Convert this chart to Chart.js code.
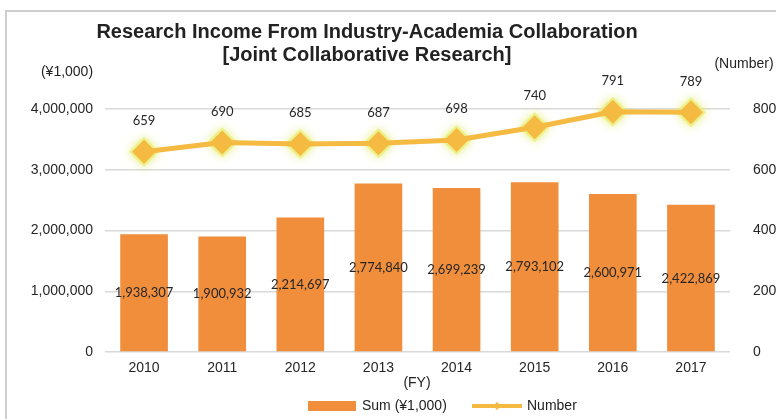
<!DOCTYPE html>
<html>
<head>
<meta charset="utf-8">
<script src="https://cdn.jsdelivr.net/npm/chart.js@4.4.1/dist/chart.umd.min.js"></script>
<style>
  html, body { margin: 0; padding: 0; background: #fff; }
  #wrap { position: relative; width: 776px; height: 419px; overflow: hidden; }
  #frame { position: absolute; left: 5px; top: 10px; width: 800px; height: 440px; border: 2px solid #cfcfcf; box-sizing: border-box; }
  canvas { position: absolute; left: 0; top: 0; }
</style>
</head>
<body>
<div id="wrap">
  <div id="frame"></div>
  <canvas id="myChart" width="776" height="419"></canvas>
</div>
<script>
'use strict';

const years = ['2010', '2011', '2012', '2013', '2014', '2015', '2016', '2017'];
const sums = [1938307, 1900932, 2214697, 2774840, 2699239, 2793102, 2600971, 2422869];
const counts = [659, 690, 685, 687, 698, 740, 791, 789];

const barColor = '#F08E3C';
const lineColor = '#F4BA42';
const narrow = '"Liberation Sans Narrow", "Arial Narrow", "Liberation Sans", sans-serif';

const fmt = n => n.toLocaleString('en-US');

// soft yellow glow behind the diamonds
const glow = {
  id: 'glow',
  beforeDatasetsDraw(chart) {
    const { ctx } = chart;
    const meta = chart.getDatasetMeta(0);
    ctx.save();
    ctx.fillStyle = 'rgba(236, 240, 130, 0.9)';
    ctx.shadowColor = 'rgba(230, 236, 110, 1)';
    ctx.shadowBlur = 10;
    meta.data.forEach(pt => {
      const r = 15;
      ctx.beginPath();
      ctx.moveTo(pt.x, pt.y - r);
      ctx.lineTo(pt.x + r, pt.y);
      ctx.lineTo(pt.x, pt.y + r);
      ctx.lineTo(pt.x - r, pt.y);
      ctx.closePath();
      ctx.fill();
    });
    ctx.restore();
  }
};

// labels, titles and legend drawn on top
const extras = {
  id: 'extras',
  afterDatasetsDraw(chart) {
    const { ctx, scales: { x, y, y1 } } = chart;
    ctx.save();
    ctx.fillStyle = '#262626';
    ctx.textAlign = 'center';
    ctx.textBaseline = 'middle';

    // bar values in the middle of each bar
    ctx.font = '13px Lato, sans-serif';
    sums.forEach((v, i) => {
      ctx.fillText(fmt(v), x.getPixelForValue(i), (y.getPixelForValue(v) + y.getPixelForValue(0)) / 2);
    });

    // counts above points
    counts.forEach((v, i) => {
      ctx.fillText(fmt(v), x.getPixelForValue(i), y1.getPixelForValue(v) - 31);
    });

    // title
    ctx.fillStyle = '#222';
    ctx.font = 'bold 20px ' + narrow;
    ctx.fillText('Research Income From Industry-Academia Collaboration', 367, 32);
    ctx.fillText('[Joint Collaborative Research]', 367, 55);

    // axis units
    ctx.font = '14px ' + narrow;
    ctx.fillText('(¥1,000)', 67, 72);
    ctx.fillText('(Number)', 744, 64);
    ctx.fillText('(FY)', 417, 383);

    // legend
    ctx.fillStyle = barColor;
    ctx.fillRect(308, 401, 48, 10);
    ctx.fillStyle = '#222';
    ctx.textAlign = 'left';
    ctx.fillText('Sum (¥1,000)', 362, 406);
    ctx.strokeStyle = lineColor;
    ctx.lineWidth = 4;
    ctx.beginPath();
    ctx.moveTo(472, 406);
    ctx.lineTo(522, 406);
    ctx.stroke();
    ctx.fillStyle = lineColor;
    ctx.beginPath();
    ctx.moveTo(497, 402); ctx.lineTo(501, 406); ctx.lineTo(497, 410); ctx.lineTo(493, 406);
    ctx.closePath();
    ctx.fill();
    ctx.fillStyle = '#222';
    ctx.fillText('Number', 527, 406);
    ctx.restore();
  }
};

const data = {
  labels: years,
  datasets: [
    {
      type: 'line',
      label: 'Number',
      data: counts,
      yAxisID: 'y1',
      borderColor: lineColor,
      borderWidth: 5,
      backgroundColor: lineColor,
      pointStyle: 'rectRot',
      pointRadius: 12,
      pointBorderWidth: 0,
      pointBackgroundColor: lineColor,
      clip: false,
      order: 0
    },
    {
      type: 'bar',
      label: 'Sum (¥1,000)',
      data: sums,
      yAxisID: 'y',
      backgroundColor: barColor,
      barPercentage: 0.61,
      categoryPercentage: 1,
      order: 1
    }
  ]
};

const config = {
  data,
  options: {
    responsive: false,
    animation: false,
    layout: { padding: { left: 5, top: 109, right: 0, bottom: 0 } },
    plugins: {
      legend: { display: false },
      title: { display: false },
      tooltip: { enabled: false }
    },
    scales: {
      x: {
        grid: { display: false },
        border: { display: false },
        ticks: { color: '#262626', font: { family: narrow, size: 14 }, padding: 0 },
        afterFit(scale) { scale.height = 67; }
      },
      y: {
        position: 'left',
        min: 0,
        max: 4000000,
        ticks: { stepSize: 1000000, color: '#262626', padding: 12, font: { family: narrow, size: 14 },
          callback: v => fmt(v) },
        grid: { color: '#d9d9d9', lineWidth: 1.5, drawTicks: false },
        border: { display: false },
        afterFit(scale) { scale.width = 100; }
      },
      y1: {
        position: 'right',
        min: 0,
        max: 800,
        ticks: { stepSize: 200, color: '#262626', padding: 15, font: { family: narrow, size: 14 } },
        grid: { display: false },
        border: { display: false },
        afterFit(scale) { scale.width = 46; }
      }
    }
  },
  plugins: [glow, extras]
};

const myChart = new Chart(document.getElementById('myChart'), config);
</script>
</body>
</html>
